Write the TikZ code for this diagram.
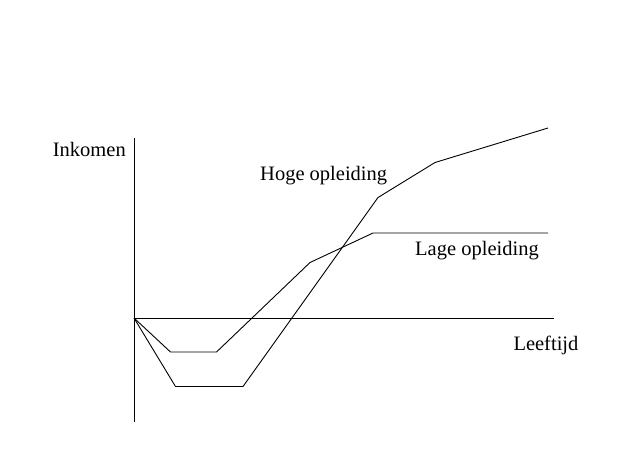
\documentclass[tikz,border=0pt]{standalone}
\usepackage{fontspec}
\setmainfont{Liberation Serif}
\begin{document}
\begin{tikzpicture}[x=1pt,y=-1pt,
  curve/.style={line width=0.9pt,line join=miter},
  axis/.style={line width=1pt},
  lbl/.style={anchor=base west,inner sep=0pt,font=\fontsize{20.5}{24}\selectfont}]
\useasboundingbox (0,0) rectangle (617,451);
% axes
\coordinate (O) at (134,318);
\coordinate (ytop) at (134,138);
\coordinate (ybot) at (134,422);
\coordinate (xend) at (554,318);
\draw[axis] (ytop) -- (ybot);
\draw[axis] (O) -- (xend);
% lage opleiding
\coordinate (l1) at (170.5,352);
\coordinate (l2) at (216.5,352);
\coordinate (l3) at (310,262.5);
\coordinate (l4) at (373,233);
\coordinate (l5) at (548,233);
\draw[curve] (O) -- (l1) -- (l2) -- (l3) -- (l4) -- (l5);
% hoge opleiding
\coordinate (h1) at (175.5,386.5);
\coordinate (h2) at (243,386.5);
\coordinate (h3) at (378,197.5);
\coordinate (h4) at (435,162.5);
\coordinate (h5) at (548,128);
\draw[curve] (O) -- (h1) -- (h2) -- (h3) -- (h4) -- (h5);
% labels
\node[lbl] (ink) at (52.7,156) {Inkomen};
\node[lbl] (hoge) at (260,180.7) {Hoge opleiding};
\node[lbl] (lage) at (415,255) {Lage opleiding};
\node[lbl] (leef) at (513.3,350.7) {Leeftijd};
\end{tikzpicture}
\end{document}
